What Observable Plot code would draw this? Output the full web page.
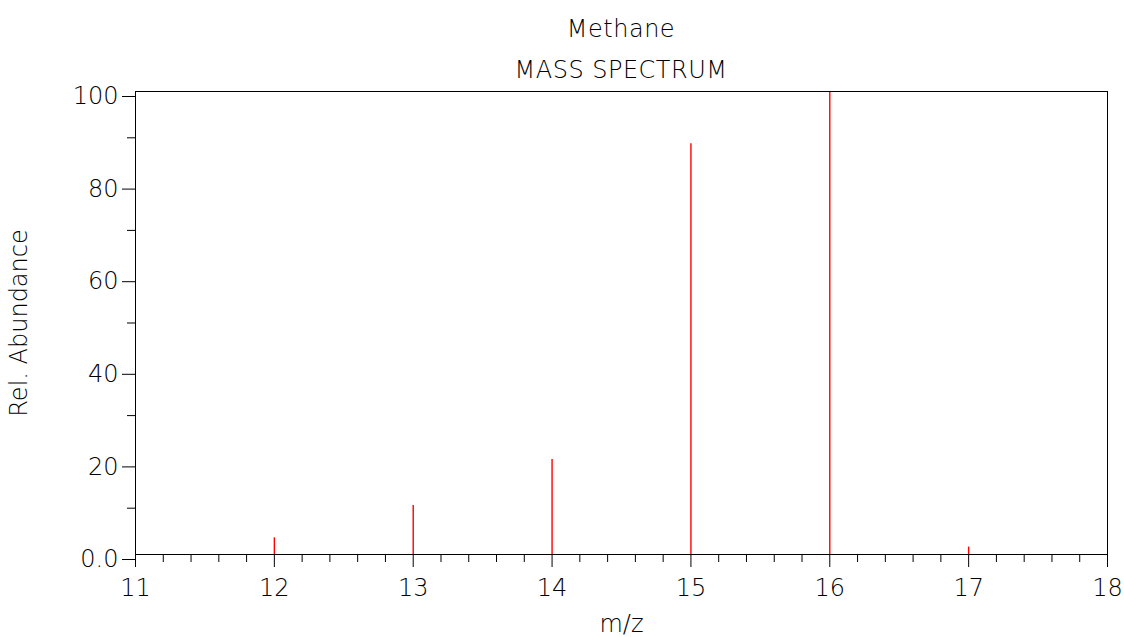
<!DOCTYPE html>
<html>
<head>
<meta charset="utf-8">
<script src="https://cdn.jsdelivr.net/npm/d3@7"></script>
<script src="https://cdn.jsdelivr.net/npm/@observablehq/plot@0.6"></script>
<style>
  html, body { margin: 0; padding: 0; background: #fff; overflow: hidden; }
  #wrap { width: 1124px; height: 637px; position: relative; font-family: "DejaVu Sans", sans-serif; font-weight: 200; }
  #titles { position: relative; height: 80px; }
  .t { position: absolute; left: 621px; transform: translateX(-50%); white-space: nowrap; font-size: 24px; line-height: 24px; color: #000; letter-spacing: 0.5px; }
  #chart svg { display: block; }
  #chart svg text { font-weight: 200; }
</style>
</head>
<body>
<div id="wrap">
  <div id="titles">
    <div class="t" id="t1" style="top:17px"></div>
    <div class="t" id="t2" style="top:58px"></div>
  </div>
  <div id="chart"></div>
</div>
<script>
// ---- data ----
const titleText = "Methane";
const subtitleText = "MASS SPECTRUM";
const xLabel = "m/z";
const yLabel = "Rel. Abundance";
const mz = [12, 13, 14, 15, 16, 17];
const abundance = [3.6, 10.6, 20.5, 88.7, 100, 1.6];
const xMajorTicks = [11, 12, 13, 14, 15, 16, 17, 18];
const yMajorTicks = [0, 20, 40, 60, 80, 100];
const yMinorTicks = [10, 30, 50, 70, 90];
const yTickLabels = ["0.0", "20", "40", "60", "80", "100"];

document.getElementById("t1").textContent = titleText;
document.getElementById("t2").textContent = subtitleText;

const peaks = mz.map((m, i) => ({mz: m, abundance: abundance[i]}));
const xMinorTicks = d3.range(110, 181, 2).map(v => v / 10).filter(v => !Number.isInteger(v));

const font = "DejaVu Sans";
const plot = Plot.plot({
  width: 1124,
  height: 557,
  marginTop: 11,
  marginBottom: 83,
  marginLeft: 135,
  marginRight: 17,
  style: {fontFamily: font, fontSize: "24px", fontWeight: 200, color: "#000", background: "#fff"},
  x: {domain: [11, 18]},
  y: {domain: [0, 100]},
  marks: [
    Plot.ruleX(peaks, {x: "mz", y1: 0, y2: "abundance", stroke: "#ff0000", strokeWidth: 1.4}),
    Plot.axisX({ticks: xMinorTicks, tickSize: 8, text: null, label: null, stroke: "#000"}),
    Plot.axisX({ticks: xMajorTicks, tickSize: 13, tickPadding: 11, tickFormat: d => String(d),
      fontSize: 24, fill: "#000", stroke: "#000",
      label: xLabel, labelAnchor: "center", labelArrow: "none", labelOffset: 77}),
    Plot.axisY({ticks: yMinorTicks, tickSize: 8, text: null, label: null, stroke: "#000"}),
    Plot.axisY({ticks: yMajorTicks, tickSize: 13, tickPadding: 4, dy: 5,
      tickFormat: d => yTickLabels[yMajorTicks.indexOf(d)],
      fontSize: 24, fill: "#000", stroke: "#000",
      label: yLabel, labelAnchor: "center", labelArrow: "none", labelOffset: 126}),
    Plot.frame({stroke: "#000", strokeWidth: 1})
  ]
});
document.getElementById("chart").appendChild(plot);
</script>
</body>
</html>
